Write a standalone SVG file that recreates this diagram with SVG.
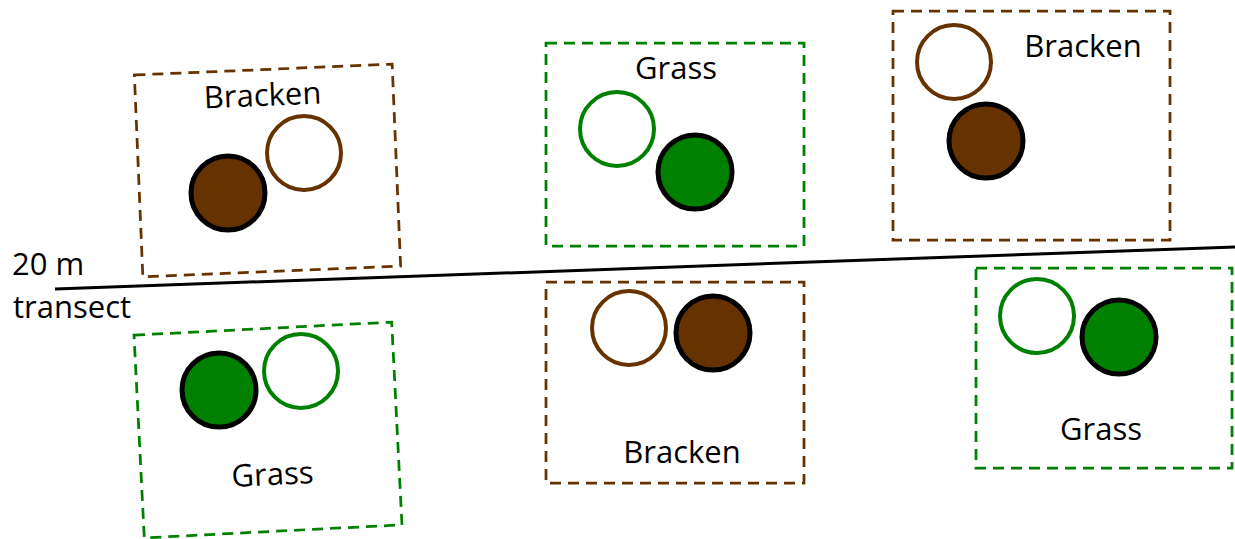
<svg xmlns="http://www.w3.org/2000/svg" width="1235" height="539" viewBox="0 0 1235 539">
<style>
.box{fill:none;stroke-width:2.75;stroke-dasharray:11 7}
.b{stroke:#663300}
.g{stroke:#008000}
.open{fill:#fff;stroke-width:4}
.fb{fill:#663300;stroke:#000;stroke-width:5}
.fg{fill:#008000;stroke:#000;stroke-width:5}
text{font-family:"Open Sans","Liberation Sans",sans-serif;font-size:31px;fill:#000}
.c{text-anchor:middle}
</style>
<rect width="1235" height="539" fill="#fff"/>
<g id="transect">
<line x1="55" y1="289" x2="1235" y2="247" stroke="#000" stroke-width="3"/>
<text x="12" y="275">20 m</text>
<text x="13" y="318">transect</text>
</g>
<g id="plot1">
<rect class="box b" x="-129" y="-101" width="258" height="202" transform="translate(267.5,170.5) rotate(-2.4)"/>
<text class="c" x="263" y="106" transform="rotate(-2.4 263 106)">Bracken</text>
<circle class="open b" cx="304" cy="153" r="37"/>
<circle class="fb" cx="228" cy="193" r="37"/>
</g>
<g id="plot2">
<rect class="box g" x="546" y="43" width="258" height="203"/>
<text class="c" x="676" y="79">Grass</text>
<circle class="open g" cx="617" cy="129" r="37"/>
<circle class="fg" cx="695" cy="172" r="37"/>
</g>
<g id="plot3">
<rect class="box b" x="893" y="11" width="277" height="229"/>
<text class="c" x="1083" y="57">Bracken</text>
<circle class="open b" cx="954" cy="62" r="37"/>
<circle class="fb" cx="986" cy="141" r="37"/>
</g>
<g id="plot4">
<rect class="box g" x="-129" y="-101.5" width="258" height="203" transform="translate(268,430) rotate(-2.9)"/>
<text class="c" x="273" y="485" transform="rotate(-2.9 273 485)">Grass</text>
<circle class="open g" cx="301" cy="371" r="37"/>
<circle class="fg" cx="219" cy="390" r="37"/>
</g>
<g id="plot5">
<rect class="box b" x="546" y="282" width="258" height="201"/>
<text class="c" x="682" y="463">Bracken</text>
<circle class="open b" cx="629" cy="328" r="37"/>
<circle class="fb" cx="713" cy="333" r="37"/>
</g>
<g id="plot6">
<rect class="box g" x="976" y="268" width="256" height="200"/>
<text class="c" x="1101" y="440">Grass</text>
<circle class="open g" cx="1037" cy="316" r="37"/>
<circle class="fg" cx="1119" cy="337" r="37"/>
</g>
</svg>
